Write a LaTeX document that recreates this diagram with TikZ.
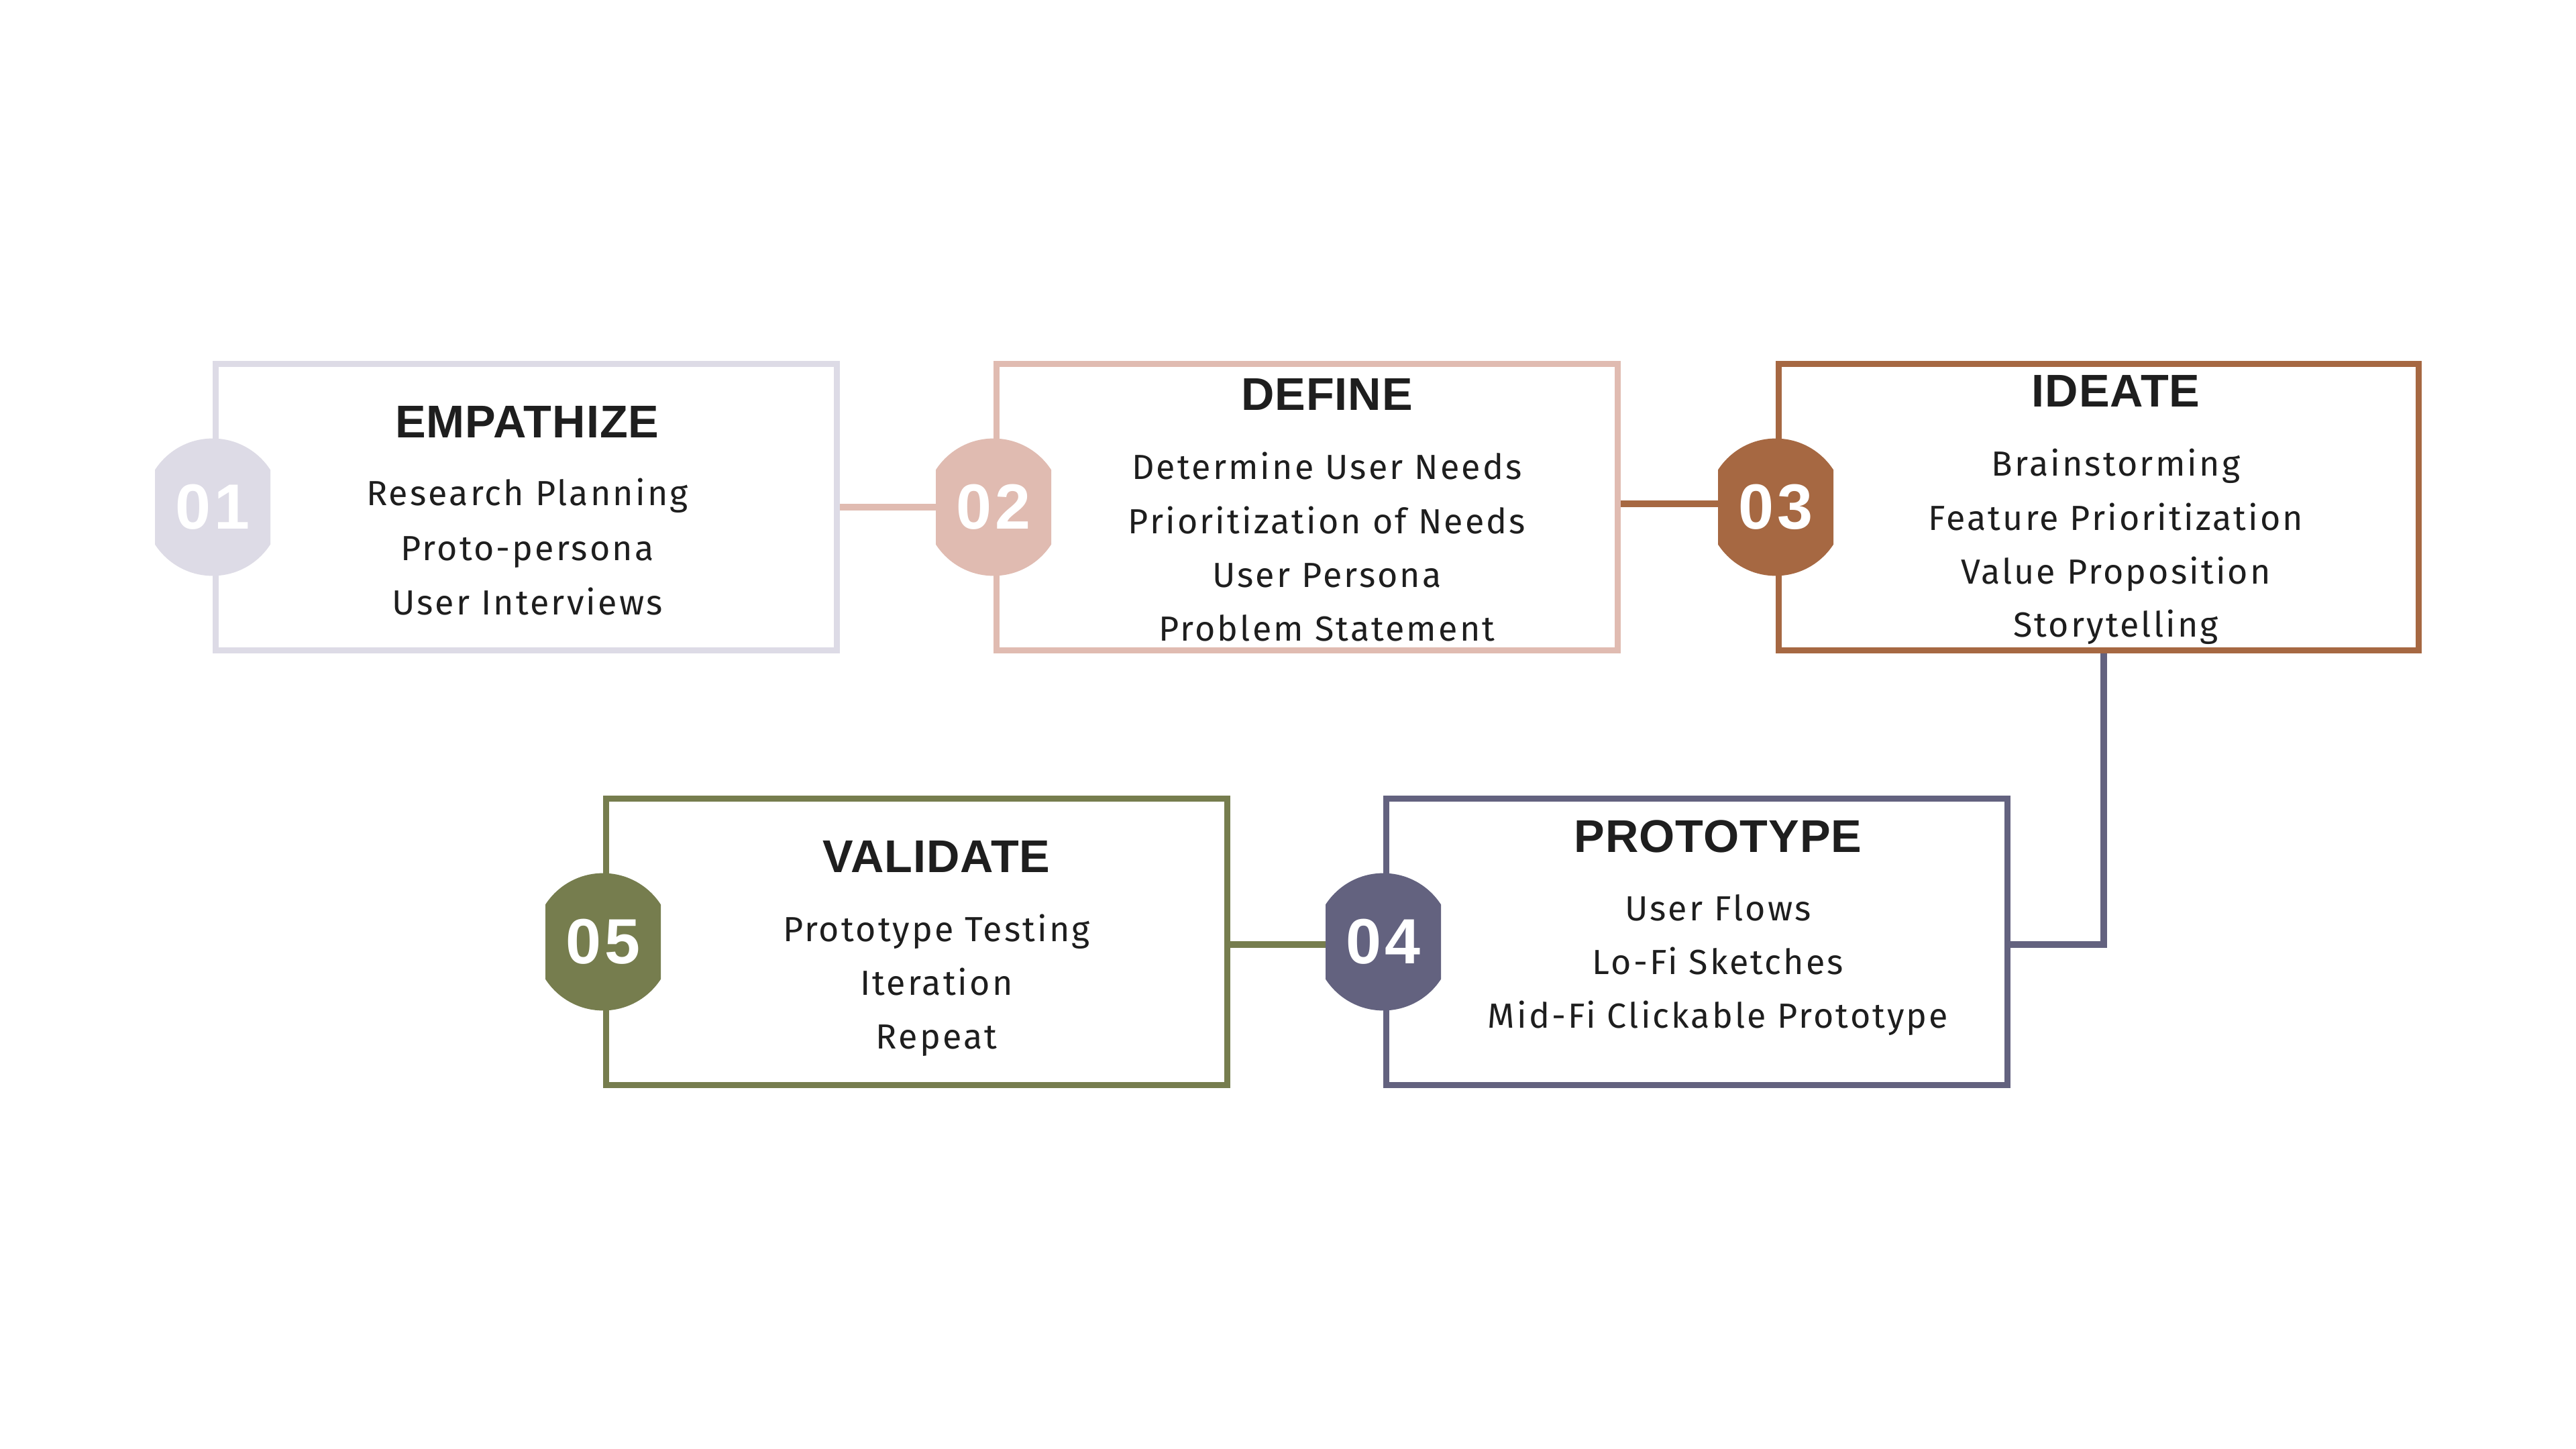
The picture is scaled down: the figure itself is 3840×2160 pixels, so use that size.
\documentclass[tikz,border=0pt]{standalone}
\usepackage{fontspec}
\usetikzlibrary{backgrounds}
\newfontfamily\headfont[LetterSpace=1.5]{Liberation Sans}
\newfontfamily\numfont[LetterSpace=6]{Liberation Sans}
\newfontfamily\bodyfont[LetterSpace=6]{Fira Sans}
\definecolor{lav}{HTML}{DDDBE6}
\definecolor{rose}{HTML}{E0BBB1}
\definecolor{rust}{HTML}{A66842}
\definecolor{slate}{HTML}{63627F}
\definecolor{olive}{HTML}{767D4E}
\definecolor{ink}{HTML}{1E1E1E}
\begin{document}
\begin{tikzpicture}[x=0.25pt,y=-0.25pt,
  stage/.style={draw=#1, line width=2.25pt, fill=white, minimum width=231.5pt,
    minimum height=106.75pt, inner sep=0pt},
  link/.style={draw=#1, line width=2.5pt},
  badge/.style={rectangle, minimum width=43pt, minimum height=51.25pt, inner sep=0pt,
    text=white, font=\numfont\bfseries\fontsize{23.8}{28}\selectfont,
    path picture={\fill[#1] (path picture bounding box.center) circle[radius=25.6pt];}},
  heading/.style={anchor=base, text=ink, inner sep=0pt,
    font=\headfont\bfseries\fontsize{17.1}{20}\selectfont},
  entry/.style={anchor=base, text=ink, inner sep=0pt,
    font=\bodyfont\fontsize{13}{16}\selectfont}]
\useasboundingbox (0,0) rectangle (3840,2160);

% stage frames
\node[stage=lav] (box1) at (784.5,756) {};
\node[stage=rose] (box2) at (1948.5,756) {};
\node[stage=rust, minimum width=238.5pt] (box3) at (3128.5,756) {};
\node[stage=slate] (box4) at (2529.5,1404) {};
\node[stage=olive] (box5) at (1366.5,1404) {};

% connectors run beneath the frames
\begin{scope}[on background layer]
  \fill[white] (0,0) rectangle (3840,2160);
  \draw[link=rose] (box1.east) -- (box2.west);
  \draw[link=rust] ([yshift=1.25pt]box2.east) -- ([yshift=1.25pt]box3.west);
  \draw[link=slate] ([xshift=1.9pt]box3.south) |- ([yshift=-1pt]box4.east);
  \draw[link=olive] ([yshift=-1pt]box5.east) -- ([yshift=-1pt]box4.west);
\end{scope}

% numbered badges
\node[badge=lav] (n1) at (box1.west) {01};
\node[badge=rose] (n2) at (box2.west) {02};
\node[badge=rust] (n3) at (box3.west) {03};
\node[badge=slate] (n4) at (box4.west) {04};
\node[badge=olive] (n5) at (box5.west) {05};

% stage 1
\node[heading] (h1) at (786,653) {EMPATHIZE};
\node[entry] (e1a) at (786,754) {Research Planning};
\node[entry] (e1b) at (786,835) {Proto-persona};
\node[entry] (e1c) at (786,916) {User Interviews};

% stage 2
\node[heading] (h2) at (1978,612) {DEFINE};
\node[entry] (e2a) at (1978,715) {Determine User Needs};
\node[entry] (e2b) at (1978,795) {Prioritization of Needs};
\node[entry] (e2c) at (1978,875) {User Persona};
\node[entry] (e2d) at (1978,955) {Problem Statement};

% stage 3
\node[heading] (h3) at (3154,607) {IDEATE};
\node[entry] (e3a) at (3154,710) {Brainstorming};
\node[entry] (e3b) at (3154,790) {Feature Prioritization};
\node[entry] (e3c) at (3154,870) {Value Proposition};
\node[entry] (e3d) at (3154,949) {Storytelling};

% stage 4
\node[heading] (h4) at (2561,1270) {PROTOTYPE};
\node[entry] (e4a) at (2561,1372) {User Flows};
\node[entry] (e4b) at (2561,1452) {Lo-Fi Sketches};
\node[entry] (e4c) at (2561,1532) {Mid-Fi Clickable Prototype};

% stage 5
\node[heading] (h5) at (1396,1300) {VALIDATE};
\node[entry] (e5a) at (1396,1403) {Prototype Testing};
\node[entry] (e5b) at (1396,1483) {Iteration};
\node[entry] (e5c) at (1396,1563) {Repeat};
\end{tikzpicture}
\end{document}
